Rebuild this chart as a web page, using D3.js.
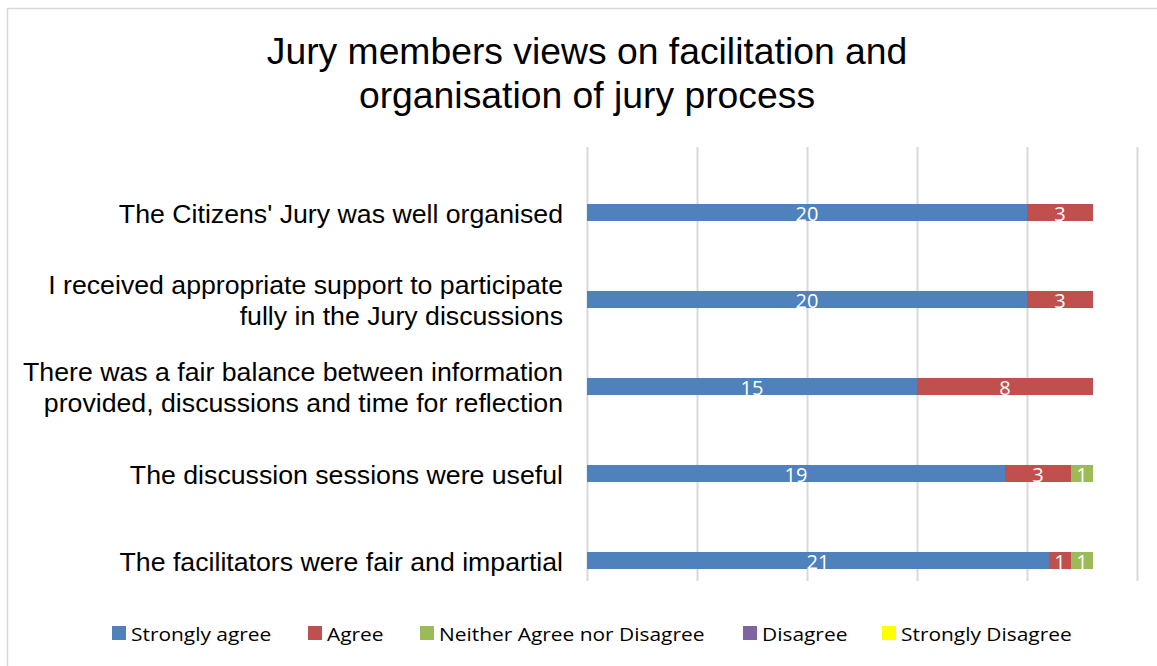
<!DOCTYPE html>
<html>
<head>
<meta charset="utf-8">
<script src="https://cdn.jsdelivr.net/npm/d3@7"></script>
<style>
  body { margin: 0; background: #fff; }
  svg { display: block; }
</style>
</head>
<body>
<svg id="chart" width="1157" height="666"></svg>
<script>
// statements, top to bottom
var categories = [
  ["The Citizens' Jury was well organised"],
  ["I received appropriate support to participate", "fully in the Jury discussions"],
  ["There was a fair balance between information", "provided, discussions and time for reflection"],
  ["The discussion sessions were useful"],
  ["The facilitators were fair and impartial"]
];
var seriesNames = ["Strongly agree", "Agree", "Neither Agree nor Disagree", "Disagree", "Strongly Disagree"];
var seriesColors = ["#4F81BD", "#C0504D", "#9BBB59", "#8064A2", "#FFFF00"];
var stronglyAgree = [20, 20, 15, 19, 21];
var agree = [3, 3, 8, 3, 1];
var neither = [0, 0, 0, 1, 1];
var disagree = [0, 0, 0, 0, 0];
var stronglyDisagree = [0, 0, 0, 0, 0];
var xTicks = [0, 5, 10, 15, 20, 25];
var titleLines = ["Jury members views on facilitation and", "organisation of jury process"];

var svg = d3.select("#chart"),
  margin = { top: 147, right: 20, bottom: 85, left: 587 },
  width = +svg.attr("width") - margin.left - margin.right,
  height = +svg.attr("height") - margin.top - margin.bottom;

var rows = categories.map(function(c, i) {
  return {
    key: i,
    label: c,
    "Strongly agree": stronglyAgree[i],
    "Agree": agree[i],
    "Neither Agree nor Disagree": neither[i],
    "Disagree": disagree[i],
    "Strongly Disagree": stronglyDisagree[i]
  };
});

var x = d3.scaleLinear().domain([0, 25]).range([0, width]);
// bands sit a little lower than the gridlines, as in the original
var y = d3.scaleBand().domain(rows.map(function(d) { return d.key; }))
  .range([22, height + 23]).paddingInner(0.804).paddingOuter(0.402);
var color = d3.scaleOrdinal().domain(seriesNames).range(seriesColors);

// chart frame
svg.append("rect")
  .attr("x", 7.5).attr("y", 8.5)
  .attr("width", 1170).attr("height", 680)
  .attr("fill", "#fff").attr("stroke", "#d9d9d9").attr("stroke-width", 1.5);

// title
var title = svg.append("text")
  .attr("text-anchor", "middle")
  .attr("font-family", "Liberation Sans, Arial, sans-serif")
  .attr("font-size", 37.3)
  .attr("fill", "#000");
title.selectAll("tspan").data(titleLines).join("tspan")
  .attr("x", 587)
  .attr("y", function(d, i) { return 64 + i * 44; })
  .text(function(d) { return d; });

var g = svg.append("g")
  .attr("transform", "translate(" + margin.left + "," + margin.top + ")");

// vertical gridlines
g.append("g").attr("class", "grid")
  .call(d3.axisBottom(x).tickValues(xTicks).tickSize(height).tickFormat(""))
  .call(function(s) {
    s.select(".domain").remove();
    s.selectAll("line").attr("stroke", "#d9d9d9").attr("stroke-width", 2);
  });

var stack = d3.stack().keys(seriesNames);
var layers = stack(rows);

var layer = g.selectAll(".layer").data(layers).join("g")
  .attr("class", "layer")
  .attr("fill", function(d) { return color(d.key); });

layer.selectAll("rect").data(function(d) { return d; }).join("rect")
  .attr("x", function(d) { return x(d[0]); })
  .attr("y", function(d) { return y(d.data.key); })
  .attr("width", function(d) { return x(d[1]) - x(d[0]); })
  .attr("height", y.bandwidth());

// value labels
layer.selectAll("text").data(function(d) {
    return d.filter(function(p) { return p[1] - p[0] > 0; });
  }).join("text")
  .attr("x", function(d) { return x((d[0] + d[1]) / 2); })
  .attr("y", function(d) { return y(d.data.key) + y.bandwidth() / 2 + 8; })
  .attr("text-anchor", "middle")
  .attr("font-family", "Open Sans, Noto Sans, sans-serif")
  .attr("font-size", 20)
  .attr("fill", "#fff")
  .text(function(d) { return d[1] - d[0]; });

// category labels
var labels = g.selectAll(".cat").data(rows).join("text")
  .attr("class", "cat")
  .attr("text-anchor", "end")
  .attr("font-family", "Liberation Sans, Arial, sans-serif")
  .attr("font-size", 26.7)
  .attr("fill", "#000");
labels.selectAll("tspan").data(function(d) {
    return d.label.map(function(t, i) { return { t: t, i: i, n: d.label.length, key: d.key }; });
  }).join("tspan")
  .attr("x", -24)
  .attr("y", function(d) {
    return y(d.key) + y.bandwidth() / 2 + 10 + (d.i - (d.n - 1) / 2) * 31;
  })
  .text(function(d) { return d.t; });

// legend
var legendX = [112, 308, 420, 743, 882];
var legend = svg.append("g").attr("class", "legend");
var item = legend.selectAll("g").data(seriesNames).join("g")
  .attr("transform", function(d, i) { return "translate(" + legendX[i] + ",626)"; });
item.append("rect")
  .attr("width", 14).attr("height", 14)
  .attr("fill", function(d) { return color(d); });
item.append("text")
  .attr("transform", "translate(19,15) scale(1.1,1)")
  .attr("font-family", "Open Sans, Noto Sans, sans-serif")
  .attr("font-size", 19)
  .attr("fill", "#000")
  .text(function(d) { return d; });
</script>
</body>
</html>
